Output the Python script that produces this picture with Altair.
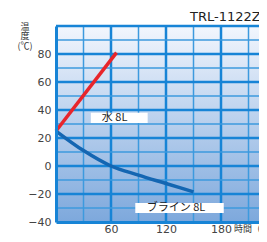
import altair as alt
import pandas as pd

# data
water_t = [0, 66]
water_v = [25, 81]
brine_t = [0, 30, 60, 90, 120, 150]
brine_v = [25, 11, 0, -6.5, -12.5, -18.5]
x_grid = [30, 60, 90, 120, 150, 180, 210]
y_grid = [-30, -20, -10, 0, 10, 20, 30, 40, 50, 60, 70, 80, 90, 100]
x_ticks = [60, 120, 180]
y_ticks = [-40, -20, 0, 20, 40, 60, 80]
labels = ["水 8L", "ブライン 8L"]
label_t = [50, 99]
label_v = [34.5, -30]
box_t1 = [38, 86.5]
box_t2 = [100, 183]
box_v1 = [30.7, -33.6]
box_v2 = [38, -26.4]
ylab_lines = ["温", "度", "(℃)"]

W, H = 203, 196
XMAX = W / 55 * 60
xs = alt.Scale(domain=[0, XMAX], nice=False, zero=False)
ys = alt.Scale(domain=[-40, 100], nice=False, zero=False)

x_axis = alt.Axis(
    values=x_ticks, title=None, grid=False, ticks=False, domain=True, zindex=1,
    domainColor="#1784d6", domainWidth=3, labelFontSize=11, labelColor="#444",
    labelFont="DejaVu Sans", labelPadding=1, labelBaseline="top", labelOverlap=False)
y_axis = alt.Axis(
    values=y_ticks, title=None, grid=False, ticks=False, domain=True, zindex=1,
    domainColor="#1784d6", domainWidth=3, labelFontSize=11, labelColor="#444",
    labelFont="DejaVu Sans", labelPadding=5, labelOverlap=False)


def X(f):
    return alt.X(f, type="quantitative", scale=xs, axis=x_axis)


def Y(f):
    return alt.Y(f, type="quantitative", scale=ys, axis=y_axis)


bg = alt.Chart(pd.DataFrame({"a": [0]})).mark_rect(
    color=alt.LinearGradient(
        gradient="linear", x1=0, y1=0, x2=0, y2=1,
        stops=[alt.GradientStop(offset=0, color="#f2f6fd"),
               alt.GradientStop(offset=1, color="#7da8dc")]
    )
).encode(x=alt.value(0), x2=alt.value(W), y=alt.value(0), y2=alt.value(H))

gx = pd.DataFrame({"t": x_grid})
gx["major"] = gx["t"] % 60 == 0
gy = pd.DataFrame({"v": y_grid})
gy["major"] = gy["v"] % 20 == 0

vrules = alt.Chart(gx).mark_rule().encode(
    x=X("t"),
    color=alt.condition("datum.major", alt.value("#1784d6"), alt.value("#3d9ade")),
    strokeWidth=alt.condition("datum.major", alt.value(2.5), alt.value(1.5)),
)
hrules = alt.Chart(gy).mark_rule().encode(
    y=Y("v"),
    color=alt.condition("datum.major", alt.value("#1784d6"), alt.value("#3d9ade")),
    strokeWidth=alt.condition("datum.major", alt.value(2.5), alt.value(1.5)),
)

water = alt.Chart(pd.DataFrame({"t": water_t, "v": water_v})).mark_line(
    color="#e8252b", strokeWidth=3.5).encode(x=X("t"), y=Y("v"))
brine = alt.Chart(pd.DataFrame({"t": brine_t, "v": brine_v})).mark_line(
    color="#1466b2", strokeWidth=3.5, interpolate="monotone").encode(x=X("t"), y=Y("v"))

boxes = alt.Chart(pd.DataFrame({"t1": box_t1, "t2": box_t2, "v1": box_v1, "v2": box_v2})).mark_rect(
    color="white").encode(x=X("t1"), x2="t2:Q", y=Y("v1"), y2="v2:Q")
texts = alt.Chart(pd.DataFrame({"t": label_t, "v": label_v, "s": labels})).mark_text(
    align="left", baseline="middle", fontSize=11, font="Noto Sans CJK JP", color="#222").encode(
    x=X("t"), y=Y("v"), text="s:N")

title = alt.Chart(pd.DataFrame({"s": ["TRL-1122Z"]})).mark_text(
    align="left", baseline="middle", fontSize=13, font="DejaVu Sans", color="#222").encode(
    x=alt.value(134), y=alt.value(-9), text="s:N")

ylab_layers = []
for s, py in zip(ylab_lines, [0.5, 9.5, 20]):
    ylab_layers.append(
        alt.Chart(pd.DataFrame({"s": [s]})).mark_text(
            align="center", baseline="middle", fontSize=9, font="Noto Sans CJK SC",
            color="#333").encode(x=alt.value(-31), y=alt.value(py), text="s:N")
    )
xlab = alt.Chart(pd.DataFrame({"s": ["時間（分）"]})).mark_text(
    align="left", baseline="top", fontSize=9, font="Noto Sans CJK JP", color="#333").encode(
    x=alt.value(178), y=alt.value(H + 3), text="s:N")

chart = alt.layer(bg, vrules, hrules, water, brine, boxes, texts, title, *ylab_layers, xlab).properties(
    width=W, height=H,
    autosize=alt.AutoSizeParams(type="none"),
    padding={"left": 48, "top": 18, "right": 0, "bottom": 12},
).configure_view(stroke=None, clip=False).configure(background="white")

chart.save("out.html", embed_options={"renderer": "svg", "actions": False})
